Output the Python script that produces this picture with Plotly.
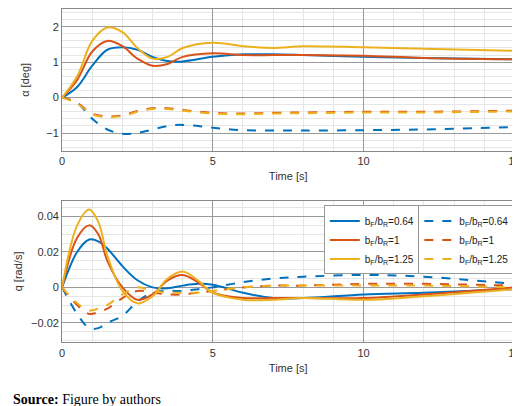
import plotly.graph_objects as go
from plotly.subplots import make_subplots

labels = ["0.64", "1", "1.25"]
colors = ["#0072BD", "#D95319", "#EDB120"]

# alpha [deg]
t_a = [0, 0.5, 1, 1.5, 2, 2.5, 3, 3.5, 4, 5, 6, 7, 8, 10, 12, 15]
a_solid = [
    [0, 0.3, 0.9, 1.35, 1.42, 1.35, 1.15, 1.03, 1.02, 1.15, 1.22, 1.22, 1.2, 1.15, 1.12, 1.08],
    [0, 0.5, 1.3, 1.6, 1.45, 1.1, 0.9, 0.95, 1.15, 1.25, 1.2, 1.2, 1.2, 1.18, 1.12, 1.08],
    [0, 0.6, 1.6, 1.98, 1.85, 1.4, 1.1, 1.15, 1.4, 1.55, 1.45, 1.4, 1.45, 1.42, 1.38, 1.32],
]
a_dash = [
    [0, -0.15, -0.6, -0.9, -1.02, -1.0, -0.9, -0.8, -0.77, -0.85, -0.92, -0.93, -0.93, -0.92, -0.9, -0.83],
    [0, -0.15, -0.45, -0.53, -0.5, -0.38, -0.3, -0.3, -0.35, -0.43, -0.45, -0.43, -0.42, -0.4, -0.4, -0.37],
    [0, -0.17, -0.47, -0.55, -0.52, -0.4, -0.32, -0.32, -0.37, -0.45, -0.47, -0.45, -0.44, -0.42, -0.42, -0.39],
]

# q [rad/s]
t_q = [0, 0.5, 0.9, 1.2, 1.5, 2, 2.5, 3, 3.5, 4, 4.5, 5, 6, 7, 8, 10, 12, 15]
q_solid = [
    [0, 0.02, 0.027, 0.026, 0.022, 0.012, 0.004, 0.0, -0.0005, 0.001, 0.002, 0.0015, -0.003, -0.006, -0.006, -0.004, -0.003, -0.001],
    [0, 0.028, 0.035, 0.03, 0.015, 0.0, -0.007, -0.004, 0.004, 0.007, 0.003, -0.003, -0.006, -0.006, -0.006, -0.006, -0.004, 0],
    [0, 0.035, 0.044, 0.037, 0.018, -0.002, -0.009, -0.005, 0.005, 0.009, 0.004, -0.003, -0.007, -0.007, -0.006, -0.007, -0.005, -0.001],
]
q_dash = [
    [0, -0.015, -0.023, -0.023, -0.02, -0.016, -0.008, -0.003, -0.002, -0.002, -0.001, 0.0, 0.003, 0.005, 0.006, 0.007, 0.006, 0.002],
    [0, -0.01, -0.015, -0.014, -0.012, -0.006, -0.002, -0.003, -0.004, -0.004, -0.003, -0.002, 0.0, 0.001, 0.001, 0.002, 0.002, 0.001],
    [0, -0.009, -0.013, -0.012, -0.01, -0.004, 0.0, -0.002, -0.003, -0.003, -0.003, -0.002, 0.0, 0.001, 0.001, 0.001, 0.001, 0],
]

fig = make_subplots(rows=2, cols=1)
for i in range(3):
    name = "b<sub>F</sub>/b<sub>R</sub>=" + labels[i]
    fig.add_trace(go.Scatter(x=t_a, y=a_solid[i], mode="lines", line=dict(color=colors[i], width=2, shape="spline"),
                             showlegend=False), row=1, col=1)
    fig.add_trace(go.Scatter(x=t_a, y=a_dash[i], mode="lines", line=dict(color=colors[i], width=2, dash="dash", shape="spline"),
                             showlegend=False), row=1, col=1)
    fig.add_trace(go.Scatter(x=t_q, y=q_solid[i], mode="lines", name=name, legend="legend",
                             line=dict(color=colors[i], width=2, shape="spline")), row=2, col=1)
    fig.add_trace(go.Scatter(x=t_q, y=q_dash[i], mode="lines", name=name, legend="legend2",
                             line=dict(color=colors[i], width=2, dash="dash", shape="spline")), row=2, col=1)

ax = dict(showgrid=True, gridcolor="#9a9a9a", gridwidth=1, zeroline=False, showline=True, linecolor="#888",
          mirror=True, ticks="", tickfont=dict(family="Liberation Sans", size=11, color="#333"),
          minor=dict(showgrid=True, gridcolor="#e6e6e6"))
fig.update_xaxes(ax, range=[0, 15], dtick=5, minor_dtick=1, domain=[0.1, 0.985],
                 title=dict(text="Time [s]", font=dict(size=11, family="Liberation Sans", color="#333"), standoff=6))
fig.update_yaxes(ax, title_font=dict(size=11, family="Liberation Sans", color="#333"))
fig.update_yaxes(row=1, col=1, range=[-1.5, 2.5], dtick=1, minor_dtick=0.2, domain=[0.65, 1.0],
                 title_text="α [deg]", title_standoff=14)
fig.update_yaxes(row=2, col=1, range=[-0.031, 0.049], dtick=0.02, minor_dtick=0.005, domain=[0.177, 0.527],
                 title_text="q [rad/s]", title_standoff=6)

leg = dict(font=dict(family="Liberation Sans", size=10, color="#222"), bgcolor="white",
           bordercolor="#999", borderwidth=1, tracegroupgap=0, itemwidth=30, yanchor="top", xanchor="right")
fig.update_layout(
    width=520, height=406, margin=dict(l=0, r=0, t=0, b=0),
    plot_bgcolor="white", paper_bgcolor="white",
    legend=dict(leg, x=0.80, y=0.515),
    legend2=dict(leg, x=0.985, y=0.515),
    annotations=[dict(text="<b>Source:</b> Figure by authors", x=0.0, y=0.035, xref="paper", yref="paper",
                      xanchor="left", yanchor="middle", showarrow=False,
                      font=dict(family="Liberation Serif", size=14, color="black"))],
)
fig.write_html("out.html")
